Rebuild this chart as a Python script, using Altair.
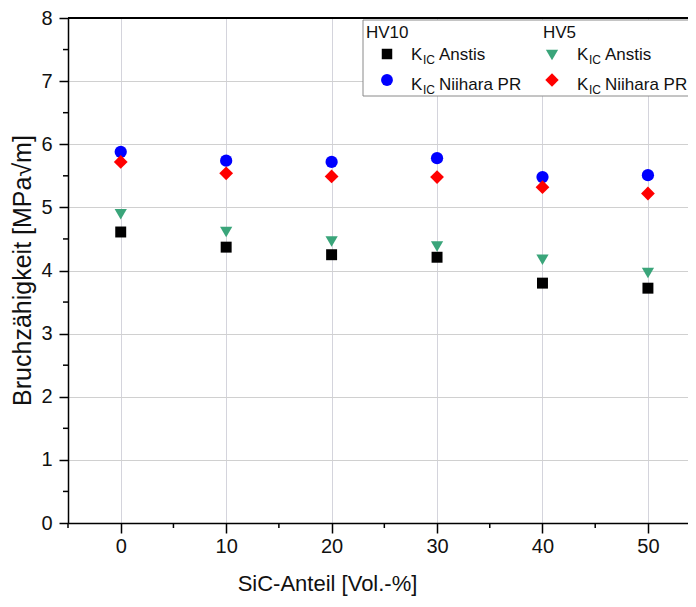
import altair as alt
import pandas as pd

# ---- data ----
sic = [0, 10, 20, 30, 40, 50]
hv10_anstis = [4.61, 4.37, 4.25, 4.21, 3.80, 3.72]
hv10_niihara = [5.88, 5.74, 5.72, 5.78, 5.48, 5.51]
hv5_anstis = [4.89, 4.61, 4.46, 4.38, 4.17, 3.96]
hv5_niihara = [5.72, 5.54, 5.49, 5.48, 5.32, 5.22]

series_names = ["HV5 Anstis", "HV10 Anstis", "HV10 Niihara", "HV5 Niihara"]
series_values = [hv5_anstis, hv10_anstis, hv10_niihara, hv5_niihara]
series_colors = ["#3aa57a", "#000000", "#0000ff", "#ff0000"]
series_shapes = ["triangle-down", "square", "circle", "diamond"]
series_sizes = [150, 120, 150, 190]

x_ticks = [0, 10, 20, 30, 40, 50]
x_minor = [-5, 5, 15, 25, 35, 45]
y_ticks = [0, 1, 2, 3, 4, 5, 6, 7, 8]
y_minor = [0.5, 1.5, 2.5, 3.5, 4.5, 5.5, 6.5, 7.5]

FONT = "Liberation Sans"
W, H = 620, 505

rows = []
for name, vals in zip(series_names, series_values):
    for x, v in zip(sic, vals):
        rows.append({"sic": x, "k": v, "series": name})
df = pd.DataFrame(rows)

xscale = alt.Scale(domain=[-5, 53.8], nice=False, zero=False)
yscale = alt.Scale(domain=[0, 8], nice=False, zero=True)

x_axis = alt.Axis(
    values=x_ticks, title="SiC-Anteil [Vol.-%]", grid=True, gridColor="#d4d4dc",
    gridWidth=1, tickSize=10, tickColor="black", tickWidth=1.5, domainColor="black",
    domainWidth=1.5, labelFontSize=20, labelColor="#111", labelPadding=3,
    titleFontSize=22, titleFontWeight="normal", titleColor="#111",
    titleX=259, titleY=67, titleBaseline="alphabetic", titleAnchor="start", titleAlign="center",
    labelFont=FONT, titleFont=FONT,
)
y_axis = alt.Axis(
    values=y_ticks, title="Bruchzähigkeit [MPa√m]", grid=True, gridColor="#d0d0d0",
    gridWidth=1, tickSize=9, tickColor="black", tickWidth=1.5, domainColor="black",
    domainWidth=1.5, labelFontSize=20, labelColor="#111", labelPadding=7,
    titleFontSize=25, titleFontWeight="normal", titleColor="#111",
    titleX=-46, titleY=252, titleBaseline="middle", titleAlign="center", titleAngle=270,
    labelFont=FONT, titleFont=FONT,
)

layers = []
for name, col, shp, sz in zip(series_names, series_colors, series_shapes, series_sizes):
    layers.append(
        alt.Chart(df[df.series == name]).mark_point(
            filled=True, shape=shp, size=sz, color=col, opacity=1, strokeWidth=0
        ).encode(
            x=alt.X("sic:Q", scale=xscale, axis=x_axis),
            y=alt.Y("k:Q", scale=yscale, axis=y_axis),
        )
    )

# minor ticks
y_minor_df = pd.DataFrame({"k": y_minor})
x_minor_df = pd.DataFrame({"sic": x_minor})
minor_y = alt.Chart(y_minor_df).mark_rule(color="black", strokeWidth=1.5).encode(
    y=alt.Y("k:Q", scale=yscale, axis=y_axis), x=alt.value(-5), x2=alt.value(0)
)
minor_x = alt.Chart(x_minor_df).mark_rule(color="black", strokeWidth=1.5).encode(
    x=alt.X("sic:Q", scale=xscale, axis=x_axis), y=alt.value(H), y2=alt.value(H + 5)
)

one = alt.Data(values=[{}])
top_border = alt.Chart(one).mark_rule(color="black", strokeWidth=2).encode(
    x=alt.value(0), x2=alt.value(W), y=alt.value(0)
)

# legend (manual, to allow subscript)
leg_box = alt.Chart(one).mark_rect(fill="white", stroke="#8a8a8a", strokeWidth=1).encode(
    x=alt.value(295), x2=alt.value(W + 10), y=alt.value(2), y2=alt.value(78)
)

def txt(s, x, y, size=17):
    return alt.Chart(one).mark_text(
        text=s, align="left", baseline="alphabetic", fontSize=size, font=FONT, color="#111"
    ).encode(x=alt.value(x), y=alt.value(y))

def sym(shape, color, size, x, y):
    return alt.Chart(one).mark_point(
        filled=True, shape=shape, size=size, color=color, opacity=1, strokeWidth=0
    ).encode(x=alt.value(x), y=alt.value(y))

legend_layers = [
    leg_box,
    txt("HV10", 298, 20),
    txt("HV5", 475, 20),
    sym("square", "#000000", 110, 319, 36),
    sym("circle", "#0000ff", 140, 319, 62),
    sym("triangle-down", "#3aa57a", 150, 484, 37),
    sym("diamond", "#ff0000", 180, 484, 62),
]
for (lx, base_y, label) in [(343, 42, "Anstis"), (343, 72, "Niihara PR"), (509, 42, "Anstis"), (509, 72, "Niihara PR")]:
    legend_layers.append(txt("K", lx, base_y))
    legend_layers.append(txt("IC", lx + 12, base_y + 4, size=12))
    legend_layers.append(txt(label, lx + 28, base_y))

chart = alt.layer(*layers, minor_y, minor_x, top_border, *legend_layers).properties(
    width=W, height=H,
    autosize=alt.AutoSizeParams(type="none"),
    padding={"left": 60, "top": 10, "right": 0, "bottom": 76},
).configure_view(stroke=None).configure(font=FONT, background="white")

chart.save("out.html", embed_options={"renderer": "svg", "actions": False})
